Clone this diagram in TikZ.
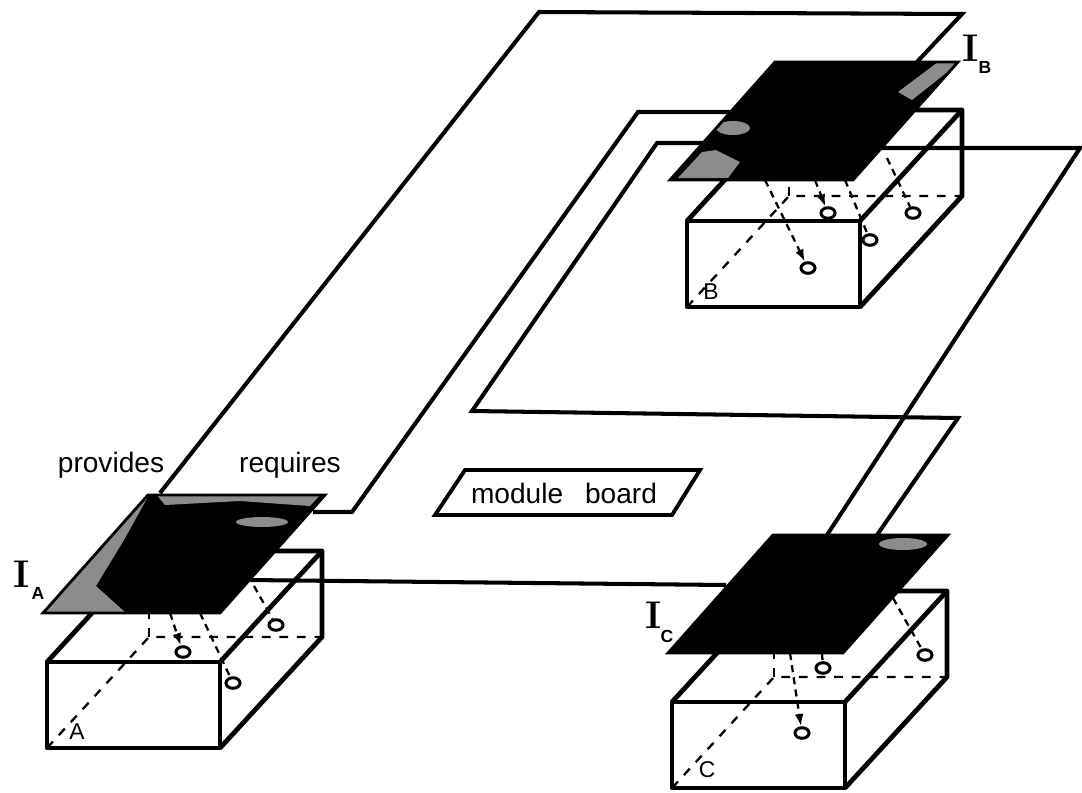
\documentclass[tikz,border=0pt]{standalone}
\usepackage{fontspec}
\setsansfont{Liberation Sans}
\usepackage{tikz}
\usetikzlibrary{shapes.geometric, arrows.meta, positioning, calc}

\begin{document}
\begin{tikzpicture}[
    x=0.02cm, y=-0.02cm,
    wire/.style={line width=2.3pt},
    edge/.style={line width=2.7pt, line join=round},
    hidden/.style={line width=1.3pt, dash pattern=on 5pt off 5pt},
    link/.style={line width=1.3pt, dash pattern=on 4pt off 3pt},
    tip/.style={-{Latex[length=7pt, width=5pt]}},
    plate/.style={draw, line width=1.6pt},
    stipple/.style={fill=black!45},
    socket/.style={ellipse, draw, fill=white, line width=1.7pt, inner sep=0pt, minimum width=8pt, minimum height=6pt},
    lbl/.style={font=\sffamily\fontsize{16}{18}\selectfont, inner sep=0pt},
    iname/.style={font=\bfseries\fontsize{22}{24}\selectfont, inner sep=0pt},
    isub/.style={font=\sffamily\bfseries\fontsize{10}{11}\selectfont, inner sep=0pt},
    boxname/.style={font=\sffamily\fontsize{13}{15}\selectfont, inner sep=0pt}
]
\useasboundingbox (0,0) rectangle (1082,792);

% Module boxes
\begin{scope}[shift={(47,748)}]
  \draw[edge] (0,0) rectangle (173,-86);
  \draw[edge] (0,-86) -- (102,-197) -- (275,-197) -- (275,-111) -- (173,0);
  \draw[edge] (173,-86) -- (275,-197);
  \draw[hidden] (0,0) -- (102,-111) -- (275,-111);
  \draw[hidden] (102,-111) -- (102,-197);
\end{scope}
\begin{scope}[shift={(687,307)}]
  \draw[edge] (0,0) rectangle (173,-86);
  \draw[edge] (0,-86) -- (102,-197) -- (275,-197) -- (275,-111) -- (173,0);
  \draw[edge] (173,-86) -- (275,-197);
  \draw[hidden] (0,0) -- (102,-111) -- (275,-111);
  \draw[hidden] (102,-111) -- (102,-197);
\end{scope}
\begin{scope}[shift={(672,788)}]
  \draw[edge] (0,0) rectangle (173,-86);
  \draw[edge] (0,-86) -- (102,-197) -- (275,-197) -- (275,-111) -- (173,0);
  \draw[edge] (173,-86) -- (275,-197);
  \draw[hidden] (0,0) -- (102,-111) -- (275,-111);
  \draw[hidden] (102,-111) -- (102,-197);
\end{scope}

\node[boxname] (nameA) at (77,732) {A};
\node[boxname] (nameB) at (711,292) {B};
\node[boxname] (nameC) at (707,770) {C};

% Sockets
\node[socket] (a1) at (183,652) {};
\node[socket] (a2) at (233,683) {};
\node[socket] (a3) at (276,625) {};
\node[socket] (b1) at (808,268) {};
\node[socket] (b2) at (828,213) {};
\node[socket] (b3) at (870,240) {};
\node[socket] (b4) at (913,213) {};
\node[socket] (c1) at (802,733) {};
\node[socket] (c2) at (823,668) {};
\node[socket] (c3) at (925,655) {};

\coordinate (pa1) at (170,613);
\coordinate (pa2) at (200,613);
\coordinate (pa3) at (254,586);
\coordinate (pb1) at (765,180);
\coordinate (pb2) at (815,180);
\coordinate (pb3) at (845,180);
\coordinate (pb4) at (887,158);
\coordinate (pc1) at (790,653);
\coordinate (pc2) at (822,653);
\coordinate (pc3) at (893,598);

\draw[link, tip] (pa1) -- (a1);
\draw[link] (pa2) -- (a2);
\draw[link] (pa3) -- (a3);
\draw[link, tip] (pb1) -- (b1);
\draw[link, tip] (pb2) -- (b2);
\draw[link] (pb3) -- (b3);
\draw[link] (pb4) -- (b4);
\draw[link, tip] (pc1) -- (c1);
\draw[link] (pc2) -- (c2);
\draw[link] (pc3) -- (c3);

% Wires on the module board
\coordinate (w1a) at (160,493);
\coordinate (w1b) at (916,63);
\coordinate (w2a) at (313,512);
\coordinate (w2b) at (730,112);
\coordinate (w3a) at (703,143);
\coordinate (w3b) at (877,535);
\coordinate (w4a) at (879,148);
\coordinate (w4b) at (827,535);
\coordinate (w5a) at (248,580);
\coordinate (w5b) at (726,585);

\draw[wire] (w1a) -- (539,12) -- (962,14) -- (w1b);
\draw[wire] (w2a) -- (352,512) -- (638,112) -- (w2b);
\draw[wire] (w3a) -- (657,143) -- (472,411) -- (958,418) -- (w3b);
\draw[wire] (w4a) -- (1080,148) -- (w4b);
\draw[wire] (w5a) -- (w5b);

% Interface plates
\begin{scope}
  \clip (43,613) -- ++(177,0) -- ++(105,-118) -- ++(-177,0) -- cycle;
  \fill[black] (0,480) rectangle (340,620);
  \fill[stipple] (43,613) -- (126,613) -- (96,586) -- (124,540) -- (150,493) -- cycle;
  \fill[stipple] (155,493) -- (322,493) -- (310,506) -- (240,501) -- (165,505) -- cycle;
  \fill[stipple] (262,522) ellipse [x radius=26, y radius=5];
\end{scope}
\draw[plate] (43,613) -- ++(177,0) -- ++(105,-118) -- ++(-177,0) -- cycle;

\begin{scope}
  \clip (670,180) -- ++(183,0) -- ++(105,-118) -- ++(-183,0) -- cycle;
  \fill[black] (660,50) rectangle (970,190);
  \fill[stipple] (678,178) -- (728,178) -- (740,162) -- (716,150) -- (702,152) -- cycle;
  \fill[stipple] (733,128) ellipse [x radius=17, y radius=7];
  \fill[stipple] (960,62) -- (938,62) -- (898,92) -- (912,100) -- cycle;
\end{scope}
\draw[plate] (670,180) -- ++(183,0) -- ++(105,-118) -- ++(-183,0) -- cycle;

\begin{scope}
  \clip (668,653) -- ++(175,0) -- ++(105,-118) -- ++(-175,0) -- cycle;
  \fill[black] (660,525) rectangle (960,660);
  \fill[stipple] (903,544) ellipse [x radius=24, y radius=6];
\end{scope}
\draw[plate] (668,653) -- ++(175,0) -- ++(105,-118) -- ++(-175,0) -- cycle;

% Labels
\node[lbl] (prov) at (111,465) {provides};
\node[lbl] (req) at (290,465) {requires};
\node[iname] (ia) at (22,574) {I};
\node[isub] (iasub) at (38,593) {A};
\node[iname] (ib) at (971,48) {I};
\node[isub] (ibsub) at (985,67) {B};
\node[iname] (ic) at (654,615) {I};
\node[isub] (icsub) at (667,636) {C};

% Module board
\draw[line width=2.2pt, fill=white] (435,515) -- (672,515) -- (700,470) -- (465,470) -- cycle;
\node[lbl] (board) at (564,493) {module\hspace{0.5em} board};

\end{tikzpicture}
\end{document}
